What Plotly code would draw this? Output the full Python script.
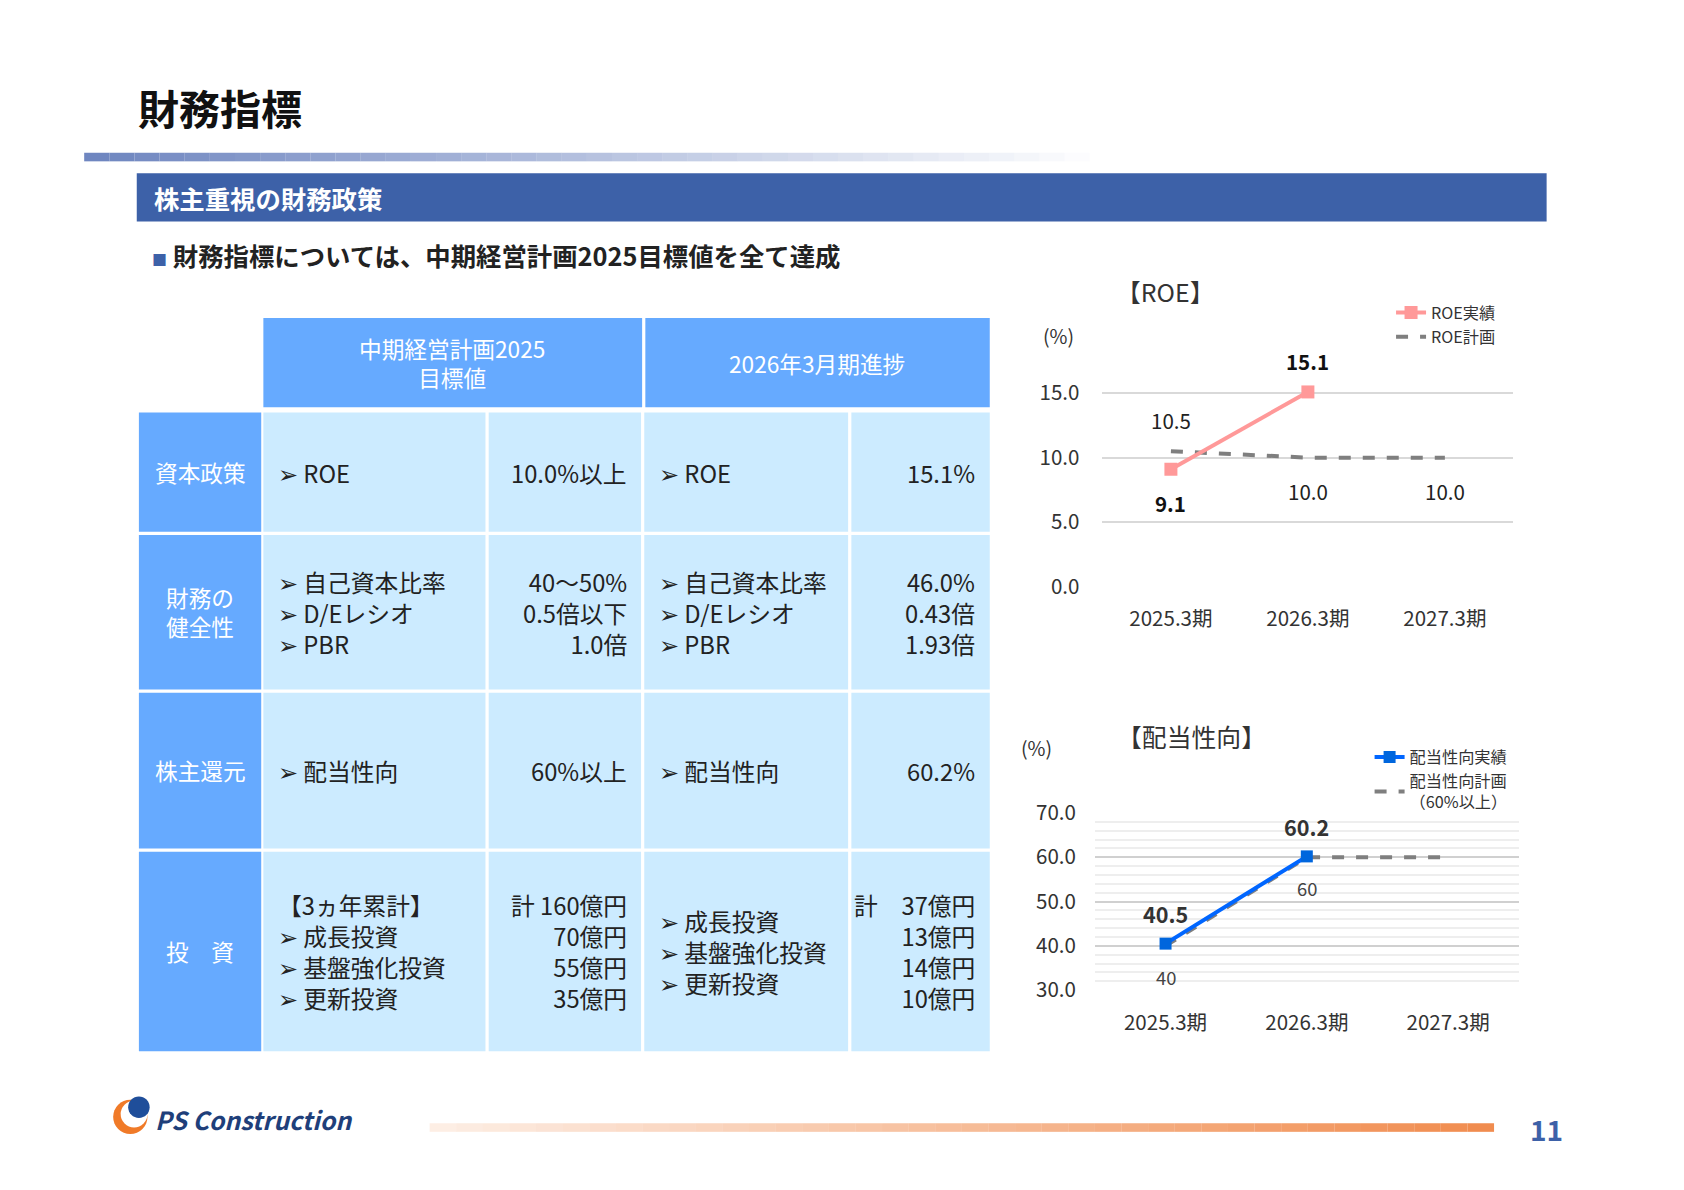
import plotly.graph_objects as go

# chart data
periods = ['2025.3期', '2026.3期', '2027.3期']
roe_actual = [9.1, 15.1, None]
roe_plan = [10.5, 10.0, 10.0]
payout_actual = [40.5, 60.2, None]
payout_plan = [40, 60, 60]

# table data
row_labels = ['資本政策', '財務の<br>健全性', '株主還元', '投　資']
plan_items = ['➢ ROE', '➢ 自己資本比率<br>➢ D/Eレシオ<br>➢ PBR', '➢ 配当性向',
              '【3ヵ年累計】<br>➢ 成長投資<br>➢ 基盤強化投資<br>➢ 更新投資']
plan_values = ['10.0%以上', '40～50%<br>0.5倍以下<br>1.0倍', '60%以上',
               '計 160億円<br>70億円<br>55億円<br>35億円']
prog_items = ['➢ ROE', '➢ 自己資本比率<br>➢ D/Eレシオ<br>➢ PBR', '➢ 配当性向',
              '<br>➢ 成長投資<br>➢ 基盤強化投資<br>➢ 更新投資']
prog_values = ['15.1%', '46.0%<br>0.43倍<br>1.93倍', '60.2%',
               '計　37億円<br>13億円<br>14億円<br>10億円']

W, H = 1684, 1190
FONT = 'Noto Sans CJK JP'


# layout positions below are measured on the slide picture; map them to paper coords
def px(x):
    return ((x - 7) / 0.932) / W


def py(y):
    return 1 - ((y - 22) / 0.908) / H


def fs(s):
    return s * 1.08


shapes = []
ann = []


def rect(x0, y0, x1, y1, color, opacity=1):
    shapes.append(dict(type='rect', xref='paper', yref='paper', x0=px(x0), x1=px(x1),
                       y0=py(y1), y1=py(y0), fillcolor=color, line_width=0, opacity=opacity,
                       layer='below'))


def text(x, y, t, size=21, color='#222222', xanchor='left', bold=False, align=None):
    if bold:
        t = '<b>' + t + '</b>'
    ann.append(dict(x=px(x), y=py(y), xref='paper', yref='paper', text=t, showarrow=False,
                    xanchor=xanchor, yanchor='middle', align=align or xanchor,
                    font=dict(family=FONT, size=fs(size), color=color)))


def label(xa, ya, xv, yv, t, shift, size=19, color='#222222'):
    ann.append(dict(x=xv, y=yv, xref=xa, yref=ya, text=t, showarrow=False, yshift=shift * 1.1,
                    font=dict(family=FONT, size=fs(size), color=color)))


# title and header band
text(126, 98, '財務指標', size=38, color='#111111', bold=True)
n = 40
for i in range(n):
    x0 = 78 + (1015 - 78) * i / n
    x1 = 78 + (1015 - 78) * (i + 1) / n
    rect(x0, 141, x1, 149, '#6F86C0', opacity=1 - i / n)
rect(127, 160, 1441, 205, '#3D61A8')
text(141, 183, '株主重視の財務政策', size=23.5, color='white', bold=True)
text(139, 236, '<span style="color:#3D61A8;font-size:15px">■</span> 財務指標については、中期経営計画2025目標値を全て達成',
     size=23.5, color='#222222', bold=True)

# table
HEAD = '#66AAFF'
CELL = '#CCEBFF'
rect(245, 295, 598, 378, HEAD)
rect(601, 295, 922, 378, HEAD)
text(421, 337, '中期経営計画2025<br>目標値', size=21, color='white', xanchor='center', align='center')
text(761, 337, '2026年3月期進捗', size=21, color='white', xanchor='center')
rows = [(383, 494), (497, 641), (644, 789), (792, 978)]
cols = [(245, 452), (455, 597), (600, 790), (793, 922)]
for i, (y0, y1) in enumerate(rows):
    rect(129, y0, 243, y1, HEAD)
    for c0, c1 in cols:
        rect(c0, y0, c1, y1, CELL)
    ym = (y0 + y1) / 2
    text(186, ym, row_labels[i], size=21, color='white', xanchor='center', align='center')
    text(257, ym, plan_items[i], size=22)
    text(586, ym, plan_values[i], size=22, xanchor='right')
    text(612, ym, prog_items[i], size=22)
    text(910, ym, prog_values[i], size=22, xanchor='right')

# footer
for i in range(n):
    x0 = 400 + (1392 - 400) * i / n
    x1 = 400 + (1392 - 400) * (i + 1) / n
    rect(x0, 1045, x1, 1053, '#F08A4B', opacity=0.15 + 0.85 * i / n)
shapes.append(dict(type='circle', xref='paper', yref='paper', x0=px(105), x1=px(137),
                   y0=py(1055), y1=py(1023), fillcolor='#F07A28', line_width=0))
shapes.append(dict(type='circle', xref='paper', yref='paper', x0=px(112), x1=px(137),
                   y0=py(1049), y1=py(1024), fillcolor='white', line_width=0))
shapes.append(dict(type='circle', xref='paper', yref='paper', x0=px(119), x1=px(139),
                   y0=py(1040), y1=py(1020), fillcolor='#1F4E9A', line_width=0))
text(142, 1041, '<i>PS Construction</i>', size=23, color='#1F3F7A', bold=True)
text(1441, 1050, '11', size=26, color='#3D61A8', xanchor='center', bold=True)

fig = go.Figure()

# ROE chart
fig.add_trace(go.Scatter(x=periods, y=roe_plan, mode='lines', name='ROE計画',
                         line=dict(color='#7F7F7F', width=4, dash='dash'),
                         xaxis='x', yaxis='y', legend='legend'))
fig.add_trace(go.Scatter(x=periods, y=roe_actual, mode='lines+markers', name='ROE実績',
                         line=dict(color='#FF9999', width=4),
                         marker=dict(symbol='square', size=13, color='#FF9999'),
                         xaxis='x', yaxis='y', legend='legend', cliponaxis=False))
for i, v in enumerate(roe_plan):
    label('x', 'y', periods[i], v, f'{v:.1f}', 28 if i == 0 else -30)
for i, v in enumerate(roe_actual):
    if v is not None:
        label('x', 'y', periods[i], v, f'<b>{v:.1f}</b>', -31 if i == 0 else 28, color='#111111')

# payout chart
fig.add_trace(go.Scatter(x=periods, y=payout_plan, mode='lines', name='配当性向計画<br>（60%以上）',
                         line=dict(color='#7F7F7F', width=4, dash='dash'),
                         xaxis='x2', yaxis='y2', legend='legend2'))
fig.add_trace(go.Scatter(x=periods, y=payout_actual, mode='lines+markers', name='配当性向実績',
                         line=dict(color='#0066FF', width=4),
                         marker=dict(symbol='square', size=12, color='#0066DD'),
                         xaxis='x2', yaxis='y2', legend='legend2', cliponaxis=False))
for i, v in enumerate(payout_plan[:2]):
    label('x2', 'y2', periods[i], v, str(v), -28, size=17, color='#444444')
for i, v in enumerate(payout_actual):
    if v is not None:
        label('x2', 'y2', periods[i], v, f'<b>{v:.1f}</b>', 27, size=20, color='#333333')

text(1085, 270, '【ROE】', size=23, xanchor='center', color='#333333')
text(986, 311, '(%)', size=18, xanchor='center', color='#333333')
text(1110, 684, '【配当性向】', size=23, xanchor='center', color='#333333')
text(966, 695, '(%)', size=18, xanchor='center', color='#333333')

axfont = dict(family=FONT, size=fs(19), color='#333333')
fig.update_layout(
    width=W, height=H, margin=dict(l=0, r=0, t=0, b=0),
    paper_bgcolor='white', plot_bgcolor='white',
    shapes=shapes, annotations=ann,
    xaxis=dict(domain=[px(1027), px(1410)], anchor='y', range=[-0.5, 2.5], showgrid=False,
               tickfont=axfont, ticks='', showline=False, ticklabelstandoff=18),
    yaxis=dict(domain=[py(545), py(353)], anchor='x', range=[0, 16], tickvals=[0, 5, 10, 15],
               tickformat='.1f', gridcolor='#D9D9D9', gridwidth=1.5, tickfont=axfont,
               zeroline=False, ticklabelstandoff=22),
    xaxis2=dict(domain=[px(1020), px(1415)], anchor='y2', range=[-0.5, 2.5], showgrid=False,
                tickfont=axfont, ticks='', showline=False, ticklabelstandoff=18),
    yaxis2=dict(domain=[py(921), py(756)], anchor='x2', range=[30, 70], dtick=10,
                tickformat='.1f', gridcolor='#D0D0D0', gridwidth=1.5, tickfont=axfont,
                zeroline=False, ticklabelstandoff=18,
                minor=dict(dtick=2, showgrid=True, gridcolor='#EEEEEE')),
    legend=dict(x=px(1296), y=py(274), xanchor='left', yanchor='top', traceorder='reversed',
                font=dict(family=FONT, size=fs(15), color='#333333'),
                bgcolor='rgba(0,0,0,0)', tracegroupgap=0, itemwidth=30),
    legend2=dict(x=px(1276), y=py(688), xanchor='left', yanchor='top', traceorder='reversed',
                 font=dict(family=FONT, size=fs(15), color='#333333'),
                 bgcolor='rgba(0,0,0,0)', tracegroupgap=0, itemwidth=30),
)

fig.write_html('out.html')
